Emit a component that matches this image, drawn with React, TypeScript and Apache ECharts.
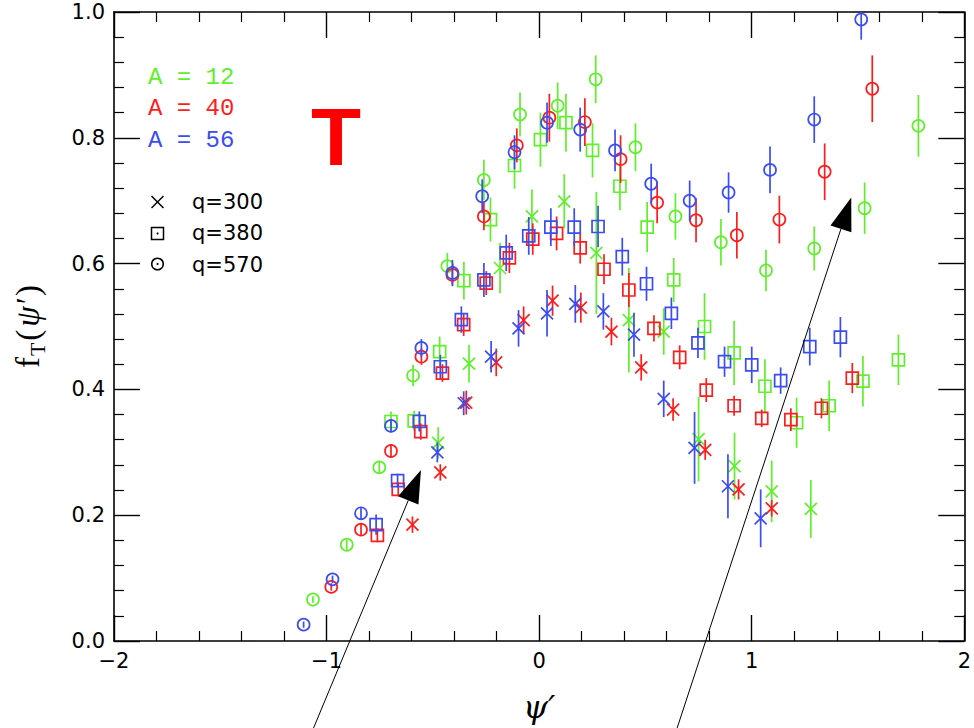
import React, { useEffect, useRef } from 'react';
import * as echarts from 'echarts';

// ---- data: [psi', f_T, error] ----
const a12q300 = [
  [-0.475, 0.315, 0.025], [-0.330, 0.441, 0.030], [-0.184, 0.593, 0.040], [-0.034, 0.675, 0.043],
  [0.118, 0.699, 0.043], [0.269, 0.617, 0.097], [0.422, 0.510, 0.083], [0.586, 0.492, 0.037],
  [0.750, 0.321, 0.067], [0.919, 0.278, 0.053], [1.094, 0.238, 0.049], [1.278, 0.210, 0.046],
];
const a40q300 = [
  [-0.596, 0.185, 0.013], [-0.465, 0.268, 0.013], [-0.343, 0.379, 0.019], [-0.202, 0.443, 0.022],
  [-0.073, 0.510, 0.022], [0.063, 0.541, 0.024], [0.196, 0.530, 0.024], [0.340, 0.492, 0.022],
  [0.480, 0.435, 0.021], [0.630, 0.368, 0.018], [0.781, 0.304, 0.016], [0.938, 0.241, 0.016],
  [1.094, 0.211, 0.013],
];
const a56q300 = [
  [-0.479, 0.300, 0.016], [-0.355, 0.378, 0.019], [-0.226, 0.452, 0.025], [-0.097, 0.497, 0.029],
  [0.037, 0.521, 0.037], [0.170, 0.536, 0.030], [0.302, 0.524, 0.029], [0.446, 0.487, 0.035],
  [0.586, 0.385, 0.029], [0.731, 0.307, 0.057], [0.888, 0.246, 0.051], [1.042, 0.195, 0.046],
];
const a12q380 = [
  [-0.697, 0.349, 0.016], [-0.588, 0.350, 0.016], [-0.468, 0.460, 0.024], [-0.354, 0.573, 0.030],
  [-0.229, 0.670, 0.035], [-0.116, 0.756, 0.037], [0.006, 0.797, 0.043], [0.126, 0.824, 0.046],
  [0.251, 0.780, 0.043], [0.380, 0.723, 0.038], [0.508, 0.658, 0.040], [0.633, 0.574, 0.035],
  [0.778, 0.500, 0.053], [0.917, 0.458, 0.051], [1.062, 0.405, 0.043], [1.211, 0.347, 0.040],
  [1.364, 0.374, 0.040], [1.523, 0.413, 0.040], [1.690, 0.447, 0.040],
];
const a40q380 = [
  [-0.761, 0.168, 0.011], [-0.663, 0.241, 0.011], [-0.557, 0.333, 0.013], [-0.455, 0.426, 0.014],
  [-0.355, 0.503, 0.018], [-0.249, 0.569, 0.019], [-0.140, 0.609, 0.024], [-0.030, 0.639, 0.025],
  [0.082, 0.648, 0.027], [0.193, 0.625, 0.025], [0.305, 0.591, 0.024], [0.422, 0.558, 0.027],
  [0.540, 0.497, 0.021], [0.661, 0.451, 0.019], [0.786, 0.399, 0.019], [0.917, 0.374, 0.016],
  [1.047, 0.354, 0.014], [1.184, 0.352, 0.018], [1.328, 0.370, 0.016], [1.473, 0.418, 0.024],
];
const a56q380 = [
  [-0.767, 0.185, 0.016], [-0.666, 0.255, 0.011], [-0.564, 0.349, 0.016], [-0.465, 0.436, 0.019],
  [-0.366, 0.511, 0.021], [-0.260, 0.574, 0.027], [-0.155, 0.617, 0.029], [-0.049, 0.644, 0.030],
  [0.055, 0.658, 0.030], [0.165, 0.658, 0.030], [0.277, 0.659, 0.033], [0.391, 0.611, 0.030],
  [0.505, 0.568, 0.027], [0.622, 0.521, 0.025], [0.747, 0.474, 0.024], [0.872, 0.444, 0.024],
  [1.000, 0.439, 0.029], [1.136, 0.414, 0.021], [1.273, 0.468, 0.030], [1.417, 0.483, 0.032],
];
const a12q570 = [
  [-1.064, 0.066, 0.005], [-0.905, 0.153, 0.008], [-0.752, 0.276, 0.010], [-0.593, 0.422, 0.017],
  [-0.432, 0.596, 0.021], [-0.260, 0.733, 0.032], [-0.090, 0.837, 0.035], [0.087, 0.851, 0.037],
  [0.266, 0.893, 0.038], [0.453, 0.785, 0.038], [0.641, 0.675, 0.037], [0.855, 0.634, 0.037],
  [1.067, 0.589, 0.033], [1.294, 0.624, 0.035], [1.531, 0.688, 0.041], [1.784, 0.819, 0.049],
];
const a40q570 = [
  [-0.978, 0.086, 0.006], [-0.838, 0.177, 0.010], [-0.697, 0.302, 0.010], [-0.554, 0.452, 0.013],
  [-0.408, 0.582, 0.016], [-0.260, 0.675, 0.022], [-0.105, 0.788, 0.027], [0.048, 0.832, 0.038],
  [0.215, 0.825, 0.038], [0.383, 0.766, 0.038], [0.555, 0.697, 0.033], [0.738, 0.669, 0.035],
  [0.930, 0.645, 0.037], [1.130, 0.670, 0.038], [1.343, 0.746, 0.045], [1.567, 0.878, 0.053],
];
const a56q570 = [
  [-1.108, 0.026, 0.005], [-0.972, 0.098, 0.006], [-0.838, 0.203, 0.010], [-0.697, 0.342, 0.010],
  [-0.554, 0.466, 0.014], [-0.408, 0.585, 0.021], [-0.268, 0.707, 0.027], [-0.116, 0.777, 0.027],
  [0.037, 0.824, 0.032], [0.193, 0.813, 0.035], [0.357, 0.780, 0.033], [0.527, 0.727, 0.032],
  [0.708, 0.700, 0.032], [0.891, 0.713, 0.032], [1.086, 0.749, 0.037], [1.294, 0.829, 0.037],
  [1.515, 0.988, 0.032],
];

// arrows: [x_start, y_start, x_tip, y_tip] in data units
const arrowLines = [
  [-1.088, -0.16, -0.556, 0.272],
  [0.628, -0.16, 1.468, 0.705],
];

const xTickLabels = ['\u22122', '\u22121', '0', '1', '2'];
const yTickLabels = ['0.0', '0.2', '0.4', '0.6', '0.8', '1.0'];

const nucleusLabels = ['A = 12', 'A = 40', 'A = 56'];
const momentumLabels = ['q=300', 'q=380', 'q=570'];

const X_MIN = -2, X_MAX = 2, Y_MIN = 0, Y_MAX = 1;

const GREEN = '#5fef2c';
const RED = '#ff1c1c';
const BLUE = '#3a4cf2';

const LW = 1.7;
const S = 6;

function makeRender(shape: string, color: string) {
  return (params: any, api: any) => {
    const x = api.value(0);
    const y = api.value(1);
    const e = api.value(2);
    const c = api.coord([x, y]);
    const t = api.coord([x, Math.min(y + e, Y_MAX)]);
    const b = api.coord([x, Math.max(y - e, Y_MIN)]);
    const stroke = { stroke: color, lineWidth: LW, fill: 'none' };
    const children: any[] = [
      { type: 'line', shape: { x1: c[0], y1: t[1], x2: c[0], y2: b[1] }, style: { stroke: color, lineWidth: LW } },
    ];
    if (shape === 'x') {
      children.push({ type: 'line', shape: { x1: c[0] - S, y1: c[1] - S, x2: c[0] + S, y2: c[1] + S }, style: stroke });
      children.push({ type: 'line', shape: { x1: c[0] - S, y1: c[1] + S, x2: c[0] + S, y2: c[1] - S }, style: stroke });
    } else if (shape === 'square') {
      children.push({ type: 'rect', shape: { x: c[0] - S, y: c[1] - S, width: 2 * S, height: 2 * S }, style: stroke });
    } else {
      children.push({ type: 'circle', shape: { cx: c[0], cy: c[1], r: S }, style: stroke });
    }
    return { type: 'group', children };
  };
}

function pointSeries(name: string, data: number[][], shape: string, color: string) {
  return {
    type: 'custom',
    name,
    data,
    clip: false,
    encode: { x: 0, y: 1 },
    renderItem: makeRender(shape, color),
    silent: true,
  };
}

function renderArrow(params: any, api: any) {
  const p0 = api.coord([api.value(0), api.value(1)]);
  const p1 = api.coord([api.value(2), api.value(3)]);
  const dx = p1[0] - p0[0];
  const dy = p1[1] - p0[1];
  const L = Math.hypot(dx, dy);
  const ux = dx / L;
  const uy = dy / L;
  const hl = 33;
  const hw = 11;
  const bx = p1[0] - ux * hl;
  const by = p1[1] - uy * hl;
  const nx = -uy;
  const ny = ux;
  return {
    type: 'group',
    children: [
      { type: 'line', shape: { x1: p0[0], y1: p0[1], x2: bx, y2: by }, style: { stroke: '#000', lineWidth: 1 } },
      {
        type: 'polygon',
        shape: { points: [[p1[0], p1[1]], [bx + nx * hw, by + ny * hw], [bx - nx * hw, by - ny * hw]] },
        style: { fill: '#000' },
      },
    ],
  };
}

const axisCommon = {
  axisLine: { show: true, onZero: false, lineStyle: { color: '#000', width: 1.6 } },
  axisTick: { show: true, inside: true, length: 26, lineStyle: { color: '#000', width: 1.4 } },
  minorTick: { show: true, splitNumber: 5, length: 10, lineStyle: { color: '#000', width: 1.2 } },
  splitLine: { show: false },
};

export default function App() {
  const ref = useRef<HTMLDivElement>(null);
  useEffect(() => {
    document.body.style.margin = '0';
    if (!ref.current) return;
    const chart = echarts.init(ref.current, null, { renderer: 'svg' });
    const labelFont = { fontFamily: 'DejaVu Sans', fontSize: 21, color: '#000' };
    const option: any = {
      animation: false,
      backgroundColor: '#fff',
      grid: { left: 114, right: 6, top: 12, bottom: 87 },
      xAxis: [
        {
          type: 'value', min: X_MIN, max: X_MAX, interval: 1, position: 'bottom',
          ...axisCommon,
          axisLabel: { show: true, ...labelFont, margin: 9, formatter: (v: number) => xTickLabels[Math.round(v - X_MIN)] },
          name: '\u03c8\u2032',
          nameLocation: 'middle',
          nameGap: 50,
          nameTextStyle: { fontFamily: 'DejaVu Serif', fontStyle: 'italic', fontSize: 32, color: '#000' },
        },
        {
          type: 'value', min: X_MIN, max: X_MAX, interval: 1, position: 'top',
          ...axisCommon,
          axisLabel: { show: false },
        },
      ],
      yAxis: [
        {
          type: 'value', min: Y_MIN, max: Y_MAX, interval: 0.2, position: 'left',
          ...axisCommon,
          axisLabel: { show: true, ...labelFont, margin: 9, formatter: (v: number) => yTickLabels[Math.round(v * 5)] },
          name: '{f|f}{s|T}{f|(}{i|\u03c8\u2032}{f|)}',
          nameLocation: 'middle',
          nameRotate: 90,
          nameGap: 66,
          nameTextStyle: {
            color: '#000',
            lineHeight: 40,
            rich: {
              f: { fontFamily: 'Liberation Serif', fontSize: 33, color: '#000', lineHeight: 40 },
              i: { fontFamily: 'Liberation Serif', fontStyle: 'italic', fontSize: 33, color: '#000', lineHeight: 40, padding: [0, 3, 0, 3] },
              s: { fontFamily: 'Liberation Serif', fontSize: 22, color: '#000', lineHeight: 22, verticalAlign: 'bottom', padding: [0, 2, 0, 1] },
            },
          },
        },
        {
          type: 'value', min: Y_MIN, max: Y_MAX, interval: 0.2, position: 'right',
          ...axisCommon,
          axisLabel: { show: false },
        },
      ],
      series: [
        pointSeries('A=12 q=300', a12q300, 'x', GREEN),
        pointSeries('A=12 q=380', a12q380, 'square', GREEN),
        pointSeries('A=12 q=570', a12q570, 'circle', GREEN),
        pointSeries('A=40 q=300', a40q300, 'x', RED),
        pointSeries('A=40 q=380', a40q380, 'square', RED),
        pointSeries('A=40 q=570', a40q570, 'circle', RED),
        pointSeries('A=56 q=300', a56q300, 'x', BLUE),
        pointSeries('A=56 q=380', a56q380, 'square', BLUE),
        pointSeries('A=56 q=570', a56q570, 'circle', BLUE),
        {
          type: 'custom',
          name: 'arrows',
          data: arrowLines,
          clip: false,
          silent: true,
          encode: { x: [0, 2], y: [1, 3] },
          renderItem: renderArrow,
          z: 10,
        },
      ],
      graphic: [
        { type: 'text', x: 148, y: 77, style: { text: nucleusLabels[0], fill: GREEN, font: '24px "Liberation Mono"', textVerticalAlign: 'middle' } },
        { type: 'text', x: 148, y: 108, style: { text: nucleusLabels[1], fill: RED, font: '24px "Liberation Mono"', textVerticalAlign: 'middle' } },
        { type: 'text', x: 148, y: 140, style: { text: nucleusLabels[2], fill: BLUE, font: '24px "Liberation Mono"', textVerticalAlign: 'middle' } },
        { type: 'text', x: 311, y: 136, style: { text: 'T', fill: '#ff0000', font: 'bold 82px "Liberation Sans"', textVerticalAlign: 'middle' } },
        { type: 'line', shape: { x1: 151.5, y1: 196, x2: 163.5, y2: 208 }, style: { stroke: '#000', lineWidth: 1.5 } },
        { type: 'line', shape: { x1: 151.5, y1: 208, x2: 163.5, y2: 196 }, style: { stroke: '#000', lineWidth: 1.5 } },
        { type: 'rect', shape: { x: 151.5, y: 227.5, width: 12, height: 12 }, style: { fill: 'none', stroke: '#000', lineWidth: 1.5 } },
        { type: 'circle', shape: { cx: 157.5, cy: 233.5, r: 1 }, style: { fill: '#000' } },
        { type: 'circle', shape: { cx: 157.5, cy: 264, r: 5.8 }, style: { fill: 'none', stroke: '#000', lineWidth: 1.5 } },
        { type: 'circle', shape: { cx: 157.5, cy: 264, r: 1 }, style: { fill: '#000' } },
        { type: 'text', x: 192, y: 202, style: { text: momentumLabels[0], fill: '#000', font: '21px "DejaVu Sans"', textVerticalAlign: 'middle' } },
        { type: 'text', x: 192, y: 233, style: { text: momentumLabels[1], fill: '#000', font: '21px "DejaVu Sans"', textVerticalAlign: 'middle' } },
        { type: 'text', x: 192, y: 265, style: { text: momentumLabels[2], fill: '#000', font: '21px "DejaVu Sans"', textVerticalAlign: 'middle' } },
      ],
    };
    chart.setOption(option);
    return () => chart.dispose();
  }, []);
  return <div ref={ref} style={{ width: 974, height: 728 }} />;
}
